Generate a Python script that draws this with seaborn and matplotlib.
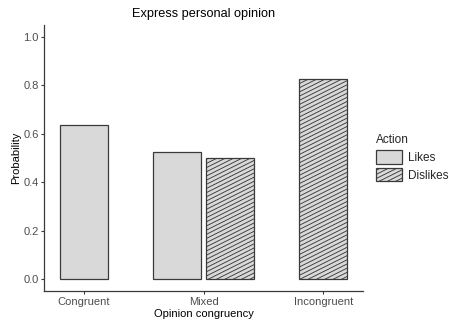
import numpy as np
import pandas as pd
import matplotlib
matplotlib.use("Agg")
import matplotlib.pyplot as plt
import matplotlib.patches as mpatches
import matplotlib.hatch as mhatch
from matplotlib.path import Path
import seaborn as sns

# ---- data -------------------------------------------------------------
categories = ["Congruent", "Mixed", "Incongruent"]
actions = ["Likes", "Dislikes"]
congruency = ["Congruent", "Mixed", "Mixed", "Incongruent"]
action = ["Likes", "Likes", "Dislikes", "Dislikes"]
probability = [0.635, 0.523, 0.498, 0.828]
y_ticks = [0.0, 0.2, 0.4, 0.6, 0.8, 1.0]


# ---- a shallower diagonal hatch for "/" -------------------------------
class ShallowHatch(mhatch.HatchPatternBase):
    """Parallel lines rising with slope 1/2, tiling seamlessly."""

    def __init__(self, hatch, density):
        n = int(hatch.count("/") * density)
        n += n % 2
        self.n = n
        self.num_lines = int(1.5 * n) + 1 if n else 0
        self.num_vertices = self.num_lines * 2

    def set_vertices_and_codes(self, vertices, codes):
        k = np.arange(-self.n // 2, self.n + 1)
        y0 = k / self.n
        vertices[0::2, 0] = 0.0
        vertices[0::2, 1] = y0
        vertices[1::2, 0] = 1.0
        vertices[1::2, 1] = y0 + 0.5
        codes[0::2] = Path.MOVETO
        codes[1::2] = Path.LINETO

    get_vertices_and_codes = set_vertices_and_codes


try:
    types = mhatch._hatch_types
    types[types.index(mhatch.NorthEastHatch)] = ShallowHatch
except Exception:
    pass

# ---- style --------------------------------------------------------------
sns.set_theme(style="ticks")
plt.rcParams["font.family"] = ["Liberation Sans", "DejaVu Sans"]
plt.rcParams["hatch.linewidth"] = 0.65
plt.rcParams["hatch.color"] = "#3a3a3a"

fill = "#d9d9d9"
edge = "#3a3a3a"

df = pd.DataFrame({"congruency": congruency, "action": action,
                   "probability": probability})

# dodge only where a category holds both actions; single bars stay centred
dodge = 0.22
bar_width = 0.40
idx = df["congruency"].map({c: i for i, c in enumerate(categories)})
n_in_group = df.groupby("congruency")["action"].transform("count")
side = df["action"].map({"Likes": -1, "Dislikes": 1})
df["xpos"] = idx + np.where(n_in_group > 1, side * dodge, 0.0)
native = np.nanmin(np.diff(np.unique(df["xpos"])))

fig = plt.figure(figsize=(4.49, 3.24), dpi=100)
ax = fig.add_axes([44 / 449, 1 - 291 / 324, (363 - 44) / 449, (291 - 25) / 324])

sns.barplot(data=df, x="xpos", y="probability", hue="action",
            hue_order=actions, palette={a: fill for a in actions},
            native_scale=True, dodge=False, width=bar_width / native,
            saturation=1, errorbar=None, edgecolor=edge, linewidth=0.9,
            legend=False, ax=ax)

for cont, act in zip(ax.containers, actions):
    if act == "Dislikes":
        for p in cont.patches:
            p.set_hatch("////")

ax.set_xlim(-0.33, 2.33)
ax.set_ylim(-0.05, 1.05)
ax.set_xticks(range(len(categories)))
ax.set_xticklabels(categories)
ax.set_yticks(y_ticks)
ax.set_yticklabels([f"{t:.1f}" for t in y_ticks])

ax.tick_params(axis="both", length=2.5, width=0.8, color=edge,
               labelsize=8, labelcolor="#4d4d4d")
ax.tick_params(axis="x", pad=2)
ax.tick_params(axis="y", pad=1.2)
for s in ("left", "bottom"):
    ax.spines[s].set_color(edge)
    ax.spines[s].set_linewidth(0.9)
sns.despine(ax=ax)

ax.set_xlabel("Opinion congruency", fontsize=8, color="black", labelpad=1)
ax.set_ylabel("Probability", fontsize=8, color="black", labelpad=2)
ax.set_title("Express personal opinion", fontsize=9.2, color="black", pad=6)

handles = [mpatches.Patch(facecolor=fill, edgecolor=edge, linewidth=0.9,
                          hatch=("////" if a == "Dislikes" else None))
           for a in actions]
leg = fig.legend(handles=handles, labels=actions, title="Action",
                 loc="center left", bbox_to_anchor=(376 / 449, 1 - 158 / 324),
                 frameon=False, fontsize=8.5, title_fontsize=8.5,
                 handlelength=2.2, handleheight=1.35, handletextpad=0.5,
                 labelspacing=0.35, borderpad=0, borderaxespad=0,
                 alignment="left")

fig.savefig("out.png", dpi=100)
